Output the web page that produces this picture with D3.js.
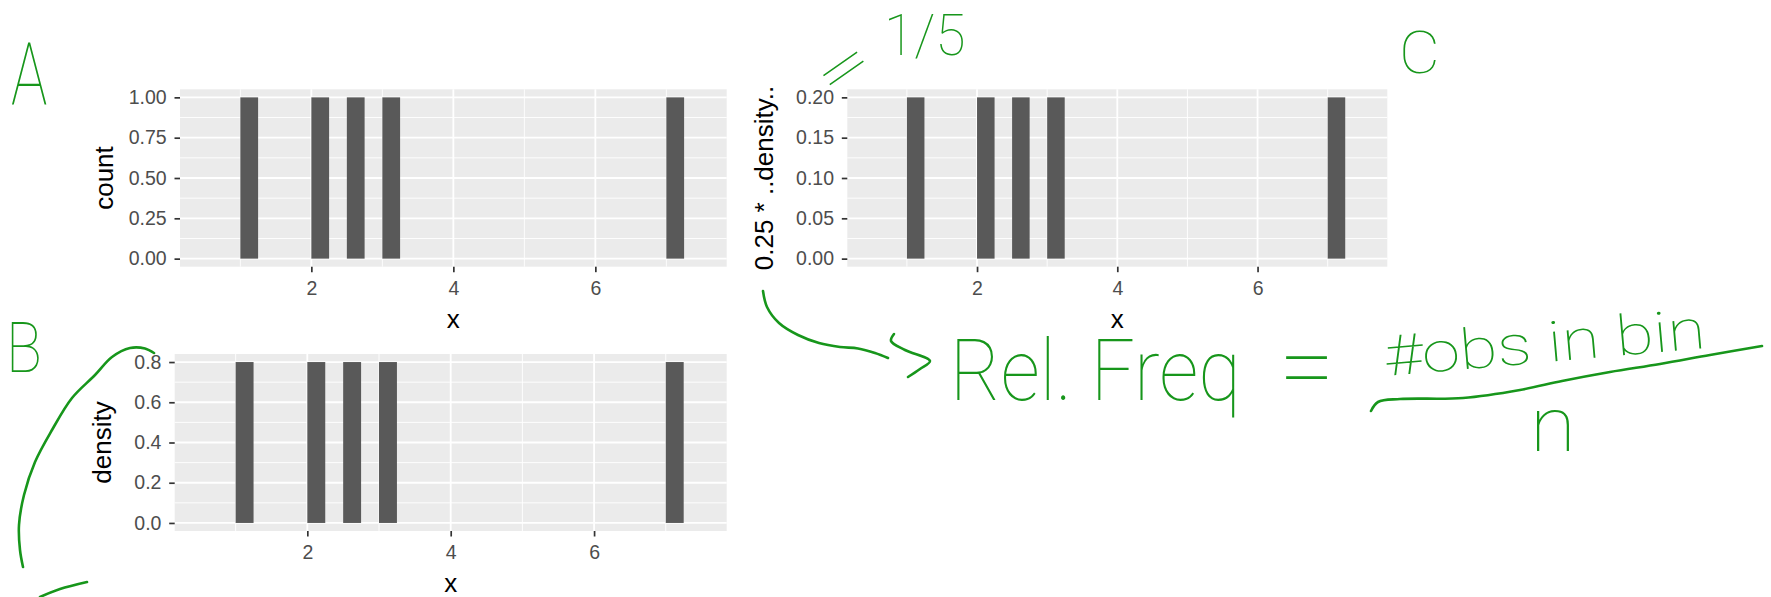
<!DOCTYPE html>
<html><head><meta charset="utf-8">
<script src="https://cdn.jsdelivr.net/npm/d3@7"></script>
<style>
html,body{margin:0;padding:0;background:#fff;}
svg{display:block;}
</style></head>
<body>
<svg id="fig" width="1771" height="597"></svg>
<script>
// Five observations, binned with width 0.25
const binStarts = [1.0, 2.0, 2.5, 3.0, 7.0];
const binWidth = 0.25;
const countValues = [1, 1, 1, 1, 1];
const densityValues = [0.8, 0.8, 0.8, 0.8, 0.8];
const relFreqValues = [0.2, 0.2, 0.2, 0.2, 0.2];

const xDomain = [0.15, 7.85];
const xTicks = [2, 4, 6];
const xMinorTicks = [1, 3, 5, 7];

const countTicks = [0, 0.25, 0.5, 0.75, 1.0];
const countTickLabels = ["0.00", "0.25", "0.50", "0.75", "1.00"];
const densityTicks = [0, 0.2, 0.4, 0.6, 0.8];
const densityTickLabels = ["0.0", "0.2", "0.4", "0.6", "0.8"];
const relFreqTicks = [0, 0.05, 0.10, 0.15, 0.20];
const relFreqTickLabels = ["0.00", "0.05", "0.10", "0.15", "0.20"];

const svg = d3.select("#fig");
const FONT = "'Liberation Sans', Arial, Helvetica, sans-serif";
const INK = "#17961b";

function histPanel(cfg) {
  const g = svg.append("g");
  const x = d3.scaleLinear().domain(xDomain).range([cfg.left, cfg.right]);
  const y = d3.scaleLinear().domain(cfg.yDomain).range([cfg.bottom, cfg.top]);

  g.append("rect")
    .attr("x", cfg.left).attr("y", cfg.top)
    .attr("width", cfg.right - cfg.left).attr("height", cfg.bottom - cfg.top)
    .attr("fill", "#EBEBEB");

  const yMinor = cfg.ticks.slice(1).map((t, i) => (t + cfg.ticks[i]) / 2);
  g.selectAll(".ymin").data(yMinor).join("line")
    .attr("x1", cfg.left).attr("x2", cfg.right)
    .attr("y1", d => y(d)).attr("y2", d => y(d))
    .attr("stroke", "#fff").attr("stroke-width", 0.9);
  g.selectAll(".xmin").data(xMinorTicks).join("line")
    .attr("y1", cfg.top).attr("y2", cfg.bottom)
    .attr("x1", d => x(d)).attr("x2", d => x(d))
    .attr("stroke", "#fff").attr("stroke-width", 0.9);
  g.selectAll(".ymaj").data(cfg.ticks).join("line")
    .attr("x1", cfg.left).attr("x2", cfg.right)
    .attr("y1", d => y(d)).attr("y2", d => y(d))
    .attr("stroke", "#fff").attr("stroke-width", 1.8);
  g.selectAll(".xmaj").data(xTicks).join("line")
    .attr("y1", cfg.top).attr("y2", cfg.bottom)
    .attr("x1", d => x(d)).attr("x2", d => x(d))
    .attr("stroke", "#fff").attr("stroke-width", 1.8);

  g.selectAll(".bar").data(binStarts).join("rect")
    .attr("x", d => x(d))
    .attr("width", d => x(d + binWidth) - x(d))
    .attr("y", (d, i) => y(cfg.values[i]))
    .attr("height", (d, i) => y(0) - y(cfg.values[i]))
    .attr("fill", "#595959");

  const yAxis = d3.axisLeft(y).tickValues(cfg.ticks)
    .tickFormat((d, i) => cfg.tickLabels[i])
    .tickSize(5.5).tickPadding(7.8);
  const ya = g.append("g").attr("transform", `translate(${cfg.left},0)`).call(yAxis);

  const xAxis = d3.axisBottom(x).tickValues(xTicks).tickFormat(d3.format("d"))
    .tickSize(5.5).tickPadding(9);
  const xa = g.append("g").attr("transform", `translate(0,${cfg.bottom})`).call(xAxis);

  [ya, xa].forEach(a => {
    a.select(".domain").remove();
    a.selectAll(".tick line").attr("stroke", "#333333").attr("stroke-width", 1.7);
    a.selectAll(".tick text").attr("fill", "#4D4D4D")
      .style("font-family", FONT).style("font-size", "19.5px");
  });

  g.append("text")
    .attr("transform", `translate(${cfg.yTitleX},${(cfg.top + cfg.bottom) / 2}) rotate(-90)`)
    .attr("text-anchor", "middle")
    .style("font-family", FONT).style("font-size", "26px").attr("fill", "#000")
    .text(cfg.yTitle);
  g.append("text")
    .attr("x", (cfg.left + cfg.right) / 2).attr("y", cfg.xTitleY)
    .attr("text-anchor", "middle")
    .style("font-family", FONT).style("font-size", "26px").attr("fill", "#000")
    .text("x");
}

histPanel({ left: 180, right: 726.7, top: 89.3, bottom: 266.7, yDomain: [-0.05, 1.05],
  values: countValues, ticks: countTicks, tickLabels: countTickLabels,
  yTitle: "count", yTitleX: 113.3, xTitleY: 328.3 });
histPanel({ left: 174.7, right: 726.7, top: 354, bottom: 531, yDomain: [-0.04, 0.84],
  values: densityValues, ticks: densityTicks, tickLabels: densityTickLabels,
  yTitle: "density", yTitleX: 111, xTitleY: 591.5 });
histPanel({ left: 847.3, right: 1387.3, top: 89.3, bottom: 266.7, yDomain: [-0.01, 0.21],
  values: relFreqValues, ticks: relFreqTicks, tickLabels: relFreqTickLabels,
  yTitle: "0.25 * ..density..", yTitleX: 772.5, xTitleY: 328.3 });

// Pen annotations
const HAND = "Roboto, Lato, 'Open Sans', sans-serif";
function hand(txt, x, y, size, sx, rot, sy) {
  svg.append("text")
    .attr("transform", `translate(${x},${y}) rotate(${rot || 0}) scale(${sx},${sy || 1})`)
    .style("font-family", HAND).style("font-weight", 100)
    .style("font-size", size + "px").attr("fill", INK)
    .text(txt);
}
hand("A", 11, 105, 87, 0.7);
hand("B", 6, 372, 70, 0.85);
hand("C", 1399, 73, 60, 1.05);
hand("=", 831, 99, 48, 2.1, -35, 1.15);
hand("1/5", 884, 55, 57, 0.97);
hand("Rel. Freq", 950, 400, 86, 0.9);
hand("=", 1279, 400, 100, 1);
hand("#obs in bin", 1386, 376, 56, 1.23, -5);
hand("n", 1530, 451, 76, 1.1);

const pen = d3.line().curve(d3.curveCatmullRom.alpha(0.5));
const strokes = [
  [[154, 353], [145, 348.5], [130, 348], [112, 357], [95, 375], [72, 398], [52, 430], [35, 462], [24, 495], [19, 525], [20, 550], [23, 567]],
  [[40, 597], [60, 589], [87, 582]],
  [[763, 291], [767, 307], [779, 323], [798, 335], [819, 343], [840, 347], [858, 348.5], [875, 353], [888, 358]],
  [[894, 334], [891, 341], [905, 350], [930, 361], [920, 369], [908, 377]],
  [[1371, 411], [1378, 402], [1400, 399], [1463, 398], [1520, 390], [1562, 381], [1610, 372], [1660, 364], [1710, 355], [1762, 346]]
];
svg.selectAll(".pen").data(strokes).join("path")
  .attr("d", d => pen(d)).attr("fill", "none")
  .attr("stroke", INK).attr("stroke-width", 2.6)
  .attr("stroke-linecap", "round").attr("stroke-linejoin", "round");
</script>
</body></html>
